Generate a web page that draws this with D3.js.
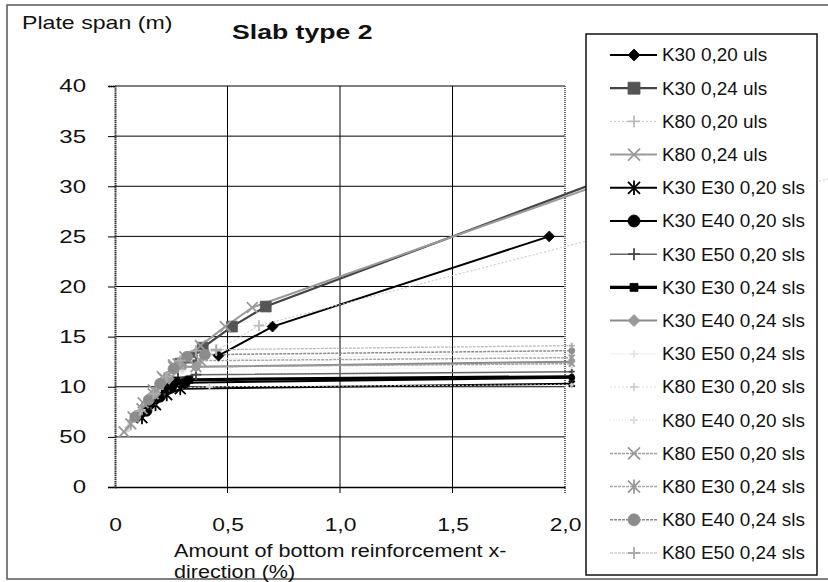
<!DOCTYPE html>
<html>
<head>
<meta charset="utf-8">
<script src="https://cdn.jsdelivr.net/npm/d3@7"></script>
<style>
  body { margin: 0; background: #fff; }
  svg text { font-family: "Liberation Sans", Arial, sans-serif; fill: #111; }
</style>
</head>
<body>
<svg id="chart" width="828" height="582"></svg>
<script>
// series values [x = reinforcement %, y = span m]
const k30_020_uls = [[0.46, 13.1], [0.70, 16.0], [1.93, 25.0]];
const k30_024_uls = [[0.29, 12.3], [0.34, 12.9], [0.39, 13.9], [0.52, 16.0], [0.67, 18.0], [2.5, 33.4]];
const k80_020_uls = [[0.45, 13.6], [0.64, 16.1], [3.3, 31.5]];
const k80_024_uls = [[0.26, 12.2], [0.31, 13.0], [0.38, 14.1], [0.49, 16.0], [0.61, 17.9], [2.5, 32.9]];
const k30e30_020_sls = [[0.12, 6.9], [0.18, 8.2], [0.23, 9.2], [0.29, 9.8], [2.03, 10.3]];
const k30e40_020_sls = [[0.14, 7.6], [0.20, 9.0], [0.25, 10.0], [0.31, 10.4], [2.03, 10.9]];
const k30e50_020_sls = [[0.16, 8.2], [0.22, 9.6], [0.28, 10.9], [0.36, 11.2], [2.03, 11.5]];
const k30e30_024_sls = [[0.16, 8.4], [0.22, 9.8], [0.27, 10.6], [0.33, 10.7], [2.03, 11.0]];
const k30e40_024_sls = [[0.18, 9.3], [0.24, 10.8], [0.30, 12.0], [0.36, 12.0], [2.03, 12.5]];
const k30e50_024_sls = [[0.20, 10.0], [0.27, 11.5], [0.34, 12.8], [2.03, 13.3]];
const k80e30_020_sls = [[0.05, 5.6], [0.10, 7.2], [0.15, 8.7], [0.20, 9.8], [0.42, 10.0], [2.03, 10.2]];
const k80e40_020_sls = [[0.06, 6.0], [0.12, 7.7], [0.18, 9.3], [0.30, 11.6], [2.03, 12.0]];
const k80e50_020_sls = [[0.04, 5.5], [0.08, 7.0], [0.125, 8.4], [0.17, 9.7], [0.21, 11.0], [0.26, 12.0], [0.36, 12.0], [2.03, 12.3]];
const k80e30_024_sls = [[0.07, 6.3], [0.12, 7.8], [0.17, 9.3], [0.22, 10.8], [0.28, 12.3], [0.38, 12.6], [2.03, 12.9]];
const k80e40_024_sls = [[0.09, 7.0], [0.15, 8.7], [0.20, 10.3], [0.26, 11.8], [0.32, 13.0], [0.40, 13.2], [2.03, 13.6]];
const k80e50_024_sls = [[0.11, 7.6], [0.17, 9.3], [0.23, 11.0], [0.29, 12.6], [0.36, 13.6], [0.45, 13.7], [2.03, 14.1]];

const seriesNames = [
    "K30 0,20 uls", "K30 0,24 uls", "K80 0,20 uls", "K80 0,24 uls",
    "K30 E30 0,20 sls", "K30 E40 0,20 sls", "K30 E50 0,20 sls",
    "K30 E30 0,24 sls", "K30 E40 0,24 sls", "K30 E50 0,24 sls",
    "K80 E30 0,20 sls", "K80 E40 0,20 sls", "K80 E50 0,20 sls",
    "K80 E30 0,24 sls", "K80 E40 0,24 sls", "K80 E50 0,24 sls"
];
const seriesValues = [
    k30_020_uls, k30_024_uls, k80_020_uls, k80_024_uls,
    k30e30_020_sls, k30e40_020_sls, k30e50_020_sls,
    k30e30_024_sls, k30e40_024_sls, k30e50_024_sls,
    k80e30_020_sls, k80e40_020_sls, k80e50_020_sls,
    k80e30_024_sls, k80e40_024_sls, k80e50_024_sls
];
const xTicks = [0, 0.5, 1.0, 1.5, 2.0];
const xTickLabels = ["0", "0,5", "1,0", "1,5", "2,0"];
const yTicks = [0, 5, 10, 15, 20, 25, 30, 35, 40];
const yTickLabels = ["0", "50", "10", "15", "20", "25", "30", "35", "40"];

// look of each series (same order as the names)
const styles = [
    { color: "#000", width: 2, marker: "diamond", mcolor: "#000", ms: 6 },
    { color: "#444", width: 2.2, marker: "square", mcolor: "#555", ms: 6 },
    { color: "#c4c4c4", width: 1, dash: "2,2", marker: "plus", mcolor: "#bbb", ms: 6 },
    { color: "#9a9a9a", width: 2, marker: "x", mcolor: "#999", ms: 6 },
    { color: "#000", width: 2, marker: "asterisk", mcolor: "#000", ms: 6 },
    { color: "#000", width: 2, marker: "circle", mcolor: "#000", ms: 6 },
    { color: "#666", width: 1.5, marker: "plus", mcolor: "#444", ms: 6 },
    { color: "#000", width: 3.2, marker: "square", mcolor: "#000", ms: 4 },
    { color: "#8a8a8a", width: 2, marker: "diamond", mcolor: "#999", ms: 6 },
    { color: "#eeeeee", width: 1, marker: "plus", mcolor: "#e6e6e6", ms: 4 },
    { color: "#d6d6d6", width: 1, dash: "2,2", marker: "plus", mcolor: "#d0d0d0", ms: 4 },
    { color: "#e2e2e2", width: 1, dash: "1,2", marker: "plus", mcolor: "#ddd", ms: 4 },
    { color: "#a0a0a0", width: 1.5, dash: "3,1", marker: "x", mcolor: "#999", ms: 6 },
    { color: "#a8a8a8", width: 1.5, dash: "3,1", marker: "asterisk", mcolor: "#999", ms: 6 },
    { color: "#8c8c8c", width: 1.5, dash: "3,1", marker: "circle", mcolor: "#8c8c8c", ms: 6 },
    { color: "#b8b8b8", width: 1.2, dash: "3,1", marker: "plus", mcolor: "#aaa", ms: 6 }
];

const svg = d3.select("#chart");
const x = d3.scaleLinear().domain([0, 2]).range([115, 565]);
const y = d3.scaleLinear().domain([0, 40]).range([487, 86]);

// stretch text horizontally like the scanned original
function stretch(sel, k) {
    sel.each(function () {
        const len = this.getComputedTextLength();
        d3.select(this).attr("textLength", len * k).attr("lengthAdjust", "spacingAndGlyphs");
    });
}

function markerPath(type, r) {
    if (type === "diamond") return `M0,${-r}L${r},0L0,${r}L${-r},0Z`;
    if (type === "square") return `M${-r},${-r}h${2 * r}v${2 * r}h${-2 * r}Z`;
    if (type === "circle") return d3.symbol(d3.symbolCircle, Math.PI * r * r)();
    if (type === "plus") return `M${-r},0H${r}M0,${-r}V${r}`;
    if (type === "x") return `M${-r},${-r}L${r},${r}M${-r},${r}L${r},${-r}`;
    return `M${-r},${-r}L${r},${r}M${-r},${r}L${r},${-r}M0,${-r * 1.2}V${r * 1.2}`;
}
const filled = t => t === "diamond" || t === "square" || t === "circle";

function drawMarker(g, st, cx, cy, scale = 1) {
    const p = g.append("path")
        .attr("transform", `translate(${cx},${cy})`)
        .attr("d", markerPath(st.marker, st.ms * scale));
    if (filled(st.marker)) p.attr("fill", st.mcolor).attr("stroke", st.mcolor).attr("stroke-width", 0.8);
    else p.attr("fill", "none").attr("stroke", st.mcolor).attr("stroke-width", 1.8);
}

// outer chart frame
svg.append("path")
    .attr("d", "M828,5H7V579H828")
    .attr("fill", "none").attr("stroke", "#555").attr("stroke-width", 1.5);

// gridlines
const grid = svg.append("g").attr("id", "grid");
grid.selectAll("line.h").data(yTicks.filter(v => v > 0)).join("line")
    .attr("x1", x(0)).attr("x2", x(2)).attr("y1", d => y(d)).attr("y2", d => y(d))
    .attr("stroke", "#000").attr("stroke-width", 1);
grid.selectAll("line.v").data([0.5, 1.0, 1.5]).join("line")
    .attr("x1", d => x(d)).attr("x2", d => x(d)).attr("y1", y(40)).attr("y2", y(0) + 6)
    .attr("stroke", "#000").attr("stroke-width", 1);
grid.append("line")
    .attr("x1", x(2)).attr("x2", x(2)).attr("y1", y(40)).attr("y2", y(0) + 6)
    .attr("stroke", "#666").attr("stroke-width", 2).attr("stroke-dasharray", "1,1");

// axes
const yAxis = svg.append("g").attr("transform", `translate(${x(0)},0)`)
    .call(d3.axisLeft(y).tickValues(yTicks).tickSize(7).tickFormat((d, i) => yTickLabels[i]).tickPadding(22));
yAxis.select(".domain").attr("stroke", "#333").attr("stroke-width", 2).attr("stroke-dasharray", "1.5,0.6");
yAxis.selectAll(".tick line").attr("stroke", "#000");
yAxis.selectAll(".tick text").attr("font-size", 18.5).attr("font-family", "Liberation Sans").attr("fill", "#111")
    .call(stretch, 1.3);

const xAxis = svg.append("g").attr("transform", `translate(0,${y(0)})`)
    .call(d3.axisBottom(x).tickValues(xTicks).tickSize(0).tickFormat((d, i) => xTickLabels[i]).tickPadding(31));
xAxis.select(".domain").attr("stroke", "#000").attr("stroke-width", 1.5);
xAxis.selectAll(".tick text").attr("font-size", 19).attr("font-family", "Liberation Sans").attr("fill", "#111")
    .call(stretch, 1.2);

// series lines and markers
const line = d3.line().x(d => x(d[0])).y(d => y(d[1]));
const plot = svg.append("g").attr("id", "series");
seriesValues.forEach((vals, i) => {
    const st = styles[i];
    plot.append("path").datum(vals)
        .attr("d", line).attr("fill", "none")
        .attr("stroke", st.color).attr("stroke-width", st.width)
        .attr("stroke-dasharray", st.dash || null);
});
seriesValues.forEach((vals, i) => {
    const g = plot.append("g");
    // the far-right points only show small marks in the original
    vals.forEach(d => drawMarker(g, styles[i], x(d[0]), y(d[1]), d[0] > 2 ? 0.5 : 0.9));
});

// titles
svg.append("text").attr("x", 22).attr("y", 29).attr("font-size", 18.5)
    .text("Plate span (m)").call(stretch, 1.25);
svg.append("text").attr("x", 232).attr("y", 39).attr("font-size", 20).attr("font-weight", "bold")
    .text("Slab type 2").call(stretch, 1.33);
svg.append("text").attr("x", 174).attr("y", 557).attr("font-size", 18)
    .text("Amount of bottom reinforcement  x-").call(stretch, 1.2);
svg.append("text").attr("x", 174).attr("y", 578).attr("font-size", 18)
    .text("direction (%)").call(stretch, 1.2);

// legend
const legend = svg.append("g").attr("id", "legend");
legend.append("rect")
    .attr("x", 586).attr("y", 34).attr("width", 231).attr("height", 541)
    .attr("fill", "#fff").attr("stroke", "#111").attr("stroke-width", 1.5);
const ly = d3.scaleLinear().domain([0, 15]).range([55, 553]);
seriesNames.forEach((name, i) => {
    const st = styles[i];
    const g = legend.append("g");
    g.append("line").attr("x1", 610).attr("x2", 657).attr("y1", ly(i)).attr("y2", ly(i))
        .attr("stroke", st.color).attr("stroke-width", st.width)
        .attr("stroke-dasharray", st.dash || null);
    drawMarker(g, st, 634, ly(i));
    g.append("text").attr("x", 662).attr("y", ly(i)).attr("dy", "0.36em")
        .attr("font-size", 18).text(name).call(stretch, 1.05);
});
</script>
</body>
</html>
